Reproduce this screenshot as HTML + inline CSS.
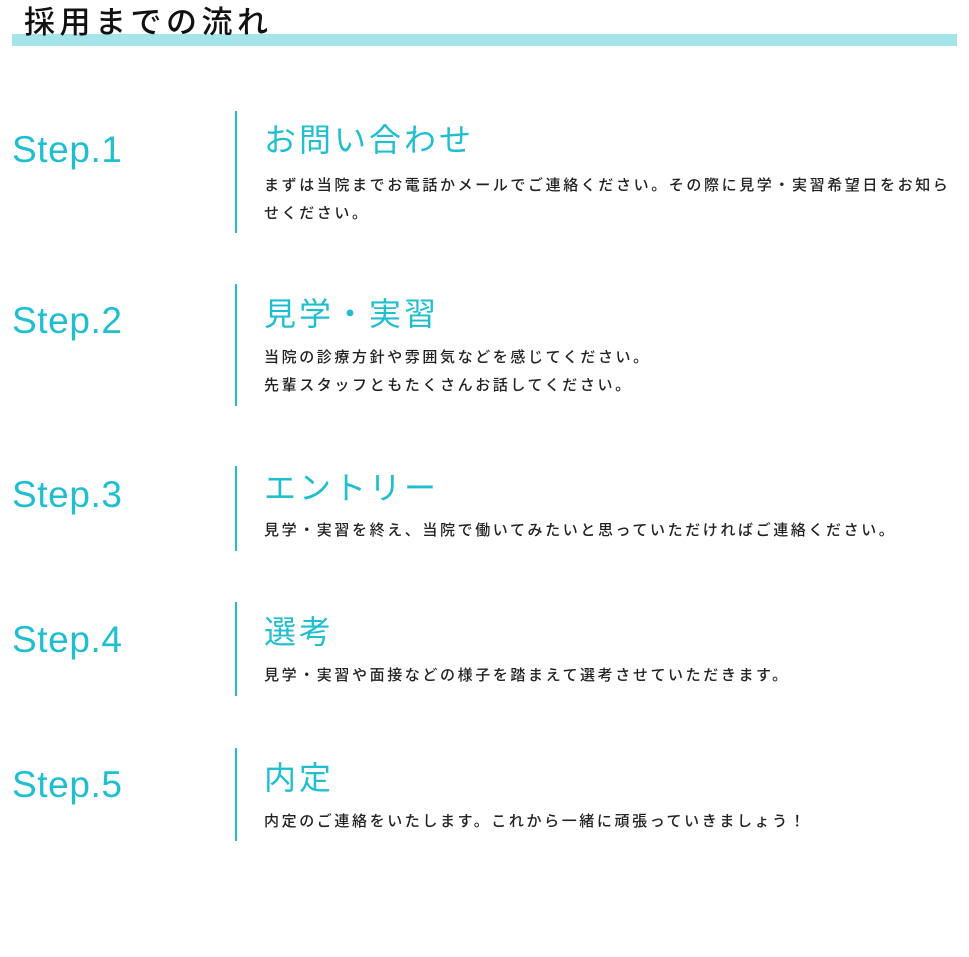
<!DOCTYPE html>
<html><head><meta charset="utf-8"><style>
body{margin:0;width:969px;height:957px;background:#fff;position:relative;overflow:hidden;font-family:"Liberation Sans","Noto Sans CJK JP",sans-serif}
.a{position:absolute;white-space:nowrap}
.bar{left:12px;top:34px;width:945px;height:12px;background:#a6e4ec}
.title{left:24px;top:3px;font-size:31px;letter-spacing:4.5px;color:#111;line-height:40px;font-weight:500}
.step{left:12px;font-size:37px;letter-spacing:0.6px;color:#1fbfd0;line-height:40px}
.vl{left:235px;width:2px;background:#1fbfd0}
.h{left:264px;font-size:32px;letter-spacing:3px;color:#1fbfd0;line-height:40px}
.b{left:264px;font-size:15px;letter-spacing:2.6px;color:#222;line-height:28px;font-weight:500}
</style></head><body>
<div class="a bar"></div>
<div class="a title">採用までの流れ</div>

<div class="a step" style="top:130px">Step.1</div>
<div class="a vl" style="top:111px;height:122px"></div>
<div class="a h" style="top:120px">お問い合わせ</div>
<div class="a b" style="top:172px">まずは当院までお電話かメールでご連絡ください。その際に見学・実習希望日をお知ら<br>せください。</div>

<div class="a step" style="top:301px">Step.2</div>
<div class="a vl" style="top:284px;height:122px"></div>
<div class="a h" style="top:294px">見学・実習</div>
<div class="a b" style="top:344px">当院の診療方針や雰囲気などを感じてください。<br>先輩スタッフともたくさんお話してください。</div>

<div class="a step" style="top:475px">Step.3</div>
<div class="a vl" style="top:466px;height:85px"></div>
<div class="a h" style="top:468px">エントリー</div>
<div class="a b" style="top:517px">見学・実習を終え、当院で働いてみたいと思っていただければご連絡ください。</div>

<div class="a step" style="top:620px">Step.4</div>
<div class="a vl" style="top:602px;height:94px"></div>
<div class="a h" style="top:612px">選考</div>
<div class="a b" style="top:662px">見学・実習や面接などの様子を踏まえて選考させていただきます。</div>

<div class="a step" style="top:765px">Step.5</div>
<div class="a vl" style="top:748px;height:93px"></div>
<div class="a h" style="top:758px">内定</div>
<div class="a b" style="top:808px">内定のご連絡をいたします。これから一緒に頑張っていきましょう！</div>
</body></html>
